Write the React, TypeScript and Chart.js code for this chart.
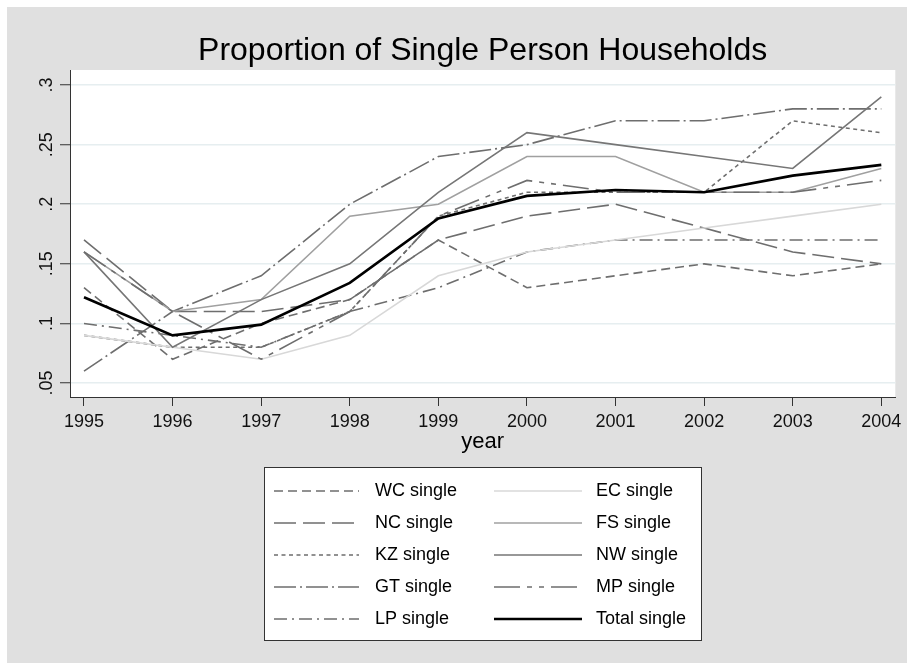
import React, { useEffect, useRef } from 'react';
import { Chart, registerables } from 'chart.js';

Chart.register(...registerables);

const years = [1995, 1996, 1997, 1998, 1999, 2000, 2001, 2002, 2003, 2004];

const wcSingle = [0.13, 0.07, 0.10, 0.12, 0.17, 0.13, 0.14, 0.15, 0.14, 0.15];
const ncSingle = [0.17, 0.11, 0.11, 0.12, 0.17, 0.19, 0.20, 0.18, 0.16, 0.15];
const kzSingle = [0.09, 0.08, 0.08, 0.11, 0.19, 0.21, 0.21, 0.21, 0.27, 0.26];
const gtSingle = [0.06, 0.11, 0.14, 0.20, 0.24, 0.25, 0.27, 0.27, 0.28, 0.28];
const lpSingle = [0.10, 0.09, 0.08, 0.11, 0.13, 0.16, 0.17, 0.17, 0.17, 0.17];
const ecSingle = [0.09, 0.08, 0.07, 0.09, 0.14, 0.16, 0.17, 0.18, 0.19, 0.20];
const fsSingle = [0.16, 0.11, 0.12, 0.19, 0.20, 0.24, 0.24, 0.21, 0.21, 0.23];
const nwSingle = [0.16, 0.08, 0.12, 0.15, 0.21, 0.26, 0.25, 0.24, 0.23, 0.29];
const mpSingle = [0.16, 0.11, 0.07, 0.11, 0.19, 0.22, 0.21, 0.21, 0.21, 0.22];
const totalSingle = [0.122, 0.090, 0.099, 0.134, 0.188, 0.207, 0.212, 0.210, 0.224, 0.233];

const seriesNames = [
  'WC single', 'NC single', 'KZ single', 'GT single', 'LP single',
  'EC single', 'FS single', 'NW single', 'MP single', 'Total single',
];
const seriesValues = [
  wcSingle, ncSingle, kzSingle, gtSingle, lpSingle,
  ecSingle, fsSingle, nwSingle, mpSingle, totalSingle,
];

const yTicks = [0.05, 0.1, 0.15, 0.2, 0.25, 0.3];
const yTickLabels = ['.05', '.1', '.15', '.2', '.25', '.3'];

const chartTitle = 'Proportion of Single Person Households';
const xTitle = 'year';

const FONT = '"Liberation Sans", Arial, Helvetica, sans-serif';

const seriesStyles = [
  { color: '#6e6e6e', dash: [9, 5], width: 1.6 },
  { color: '#6e6e6e', dash: [22, 7], width: 1.6 },
  { color: '#6e6e6e', dash: [4, 3.5], width: 1.6 },
  { color: '#6e6e6e', dash: [22, 4, 2, 4], width: 1.6 },
  { color: '#6e6e6e', dash: [13, 5, 2, 5], width: 1.6 },
  { color: '#d8d8d8', dash: [], width: 1.6 },
  { color: '#a0a0a0', dash: [], width: 1.6 },
  { color: '#767676', dash: [], width: 1.6 },
  { color: '#6e6e6e', dash: [26, 7, 5, 7, 5, 7], width: 1.6 },
  { color: '#000000', dash: [], width: 2.6 },
];

const bgPlugin = {
  id: 'bgPlugin',
  beforeDraw(chart: any) {
    const { ctx, chartArea, width, height } = chart;
    ctx.save();
    ctx.fillStyle = '#e0e0e0';
    ctx.fillRect(0, 0, width, height);
    ctx.fillStyle = '#ffffff';
    ctx.fillRect(chartArea.left, chartArea.top, chartArea.right - chartArea.left, chartArea.bottom - chartArea.top);
    ctx.restore();
  },
};

const titlePlugin = {
  id: 'titlePlugin',
  afterDraw(chart: any) {
    const { ctx, chartArea } = chart;
    const cx = (chartArea.left + chartArea.right) / 2;
    ctx.save();
    ctx.font = `32px ${FONT}`;
    ctx.fillStyle = '#000';
    ctx.textAlign = 'center';
    ctx.textBaseline = 'alphabetic';
    ctx.fillText(chartTitle, cx, chartArea.top - 10);
    ctx.restore();
  },
};

const legendPlugin = {
  id: 'boxLegend',
  afterDraw(chart: any) {
    const { ctx, chartArea } = chart;
    const cx = (chartArea.left + chartArea.right) / 2;
    const boxW = 437;
    const boxH = 173;
    const bx = Math.round(cx - boxW / 2) + 0.5;
    const by = Math.round(chartArea.bottom + 70) + 0.5;
    ctx.save();
    ctx.fillStyle = '#ffffff';
    ctx.fillRect(bx, by, boxW, boxH);
    ctx.strokeStyle = '#333333';
    ctx.lineWidth = 1;
    ctx.strokeRect(bx, by, boxW, boxH);
    const ds = chart.data.datasets;
    const cols = [
      { lineX: bx + 9.5, lineLen: 85, textX: bx + 110.5 },
      { lineX: bx + 229.5, lineLen: 88, textX: bx + 331.5 },
    ];
    ds.forEach((d: any, i: number) => {
      const col = cols[Math.floor(i / 5)];
      const row = i % 5;
      const y = by + 23.5 + row * 32;
      ctx.save();
      ctx.strokeStyle = d.borderColor;
      ctx.lineWidth = d.borderWidth;
      ctx.setLineDash(d.borderDash || []);
      ctx.lineCap = 'butt';
      ctx.beginPath();
      ctx.moveTo(col.lineX, y);
      ctx.lineTo(col.lineX + col.lineLen, y);
      ctx.stroke();
      ctx.restore();
      ctx.font = `18px ${FONT}`;
      ctx.fillStyle = '#000';
      ctx.textAlign = 'left';
      ctx.textBaseline = 'middle';
      ctx.fillText(d.label, col.textX, y);
    });
    ctx.restore();
  },
};

export default function App() {
  const ref = useRef<HTMLCanvasElement>(null);
  useEffect(() => {
    const datasets = seriesNames.map((name, i) => ({
      label: name,
      data: seriesValues[i],
      borderColor: seriesStyles[i].color,
      backgroundColor: seriesStyles[i].color,
      borderDash: seriesStyles[i].dash,
      borderWidth: seriesStyles[i].width,
      pointRadius: 0,
      pointHoverRadius: 0,
      tension: 0,
      fill: false,
      order: -i,
    }));
    const chart = new Chart(ref.current as HTMLCanvasElement, {
      type: 'line',
      data: { labels: years, datasets },
      options: {
        animation: false,
        responsive: false,
        devicePixelRatio: 1,
        layout: { padding: { top: 63, left: 0, right: 10, bottom: 206 } },
        plugins: {
          legend: { display: false },
          title: { display: false },
          tooltip: { enabled: false },
        },
        scales: {
          x: {
            type: 'linear',
            min: 1994.842,
            max: 2004.158,
            afterBuildTicks: (s: any) => {
              s.ticks = years.map((v) => ({ value: v }));
            },
            afterFit: (s: any) => {
              s.height = 60;
            },
            grid: {
              drawOnChartArea: false,
              drawTicks: true,
              tickLength: 9,
              tickColor: '#333',
              tickWidth: 1,
            },
            border: { display: true, color: '#333', width: 1 },
            ticks: {
              autoSkip: false,
              minRotation: 0,
              maxRotation: 0,
              padding: 5.5,
              color: '#111',
              font: { family: FONT, size: 18 },
              callback: (v: any) => String(v),
            },
            title: {
              display: true,
              text: xTitle,
              color: '#000',
              font: { family: FONT, size: 22, lineHeight: 1.2 },
              padding: { top: 0, bottom: 2 },
            },
          },
          y: {
            type: 'linear',
            min: 0.0383,
            max: 0.3126,
            afterBuildTicks: (s: any) => {
              s.ticks = yTicks.map((v) => ({ value: v }));
            },
            afterFit: (s: any) => {
              s.width = 63;
            },
            grid: {
              color: '#e6eef0',
              lineWidth: 1.5,
              drawTicks: true,
              tickLength: 10,
              tickColor: '#333',
              tickWidth: 1,
            },
            border: { display: true, color: '#333', width: 1 },
            ticks: {
              autoSkip: false,
              minRotation: 90,
              maxRotation: 90,
              crossAlign: 'center',
              padding: 0,
              color: '#111',
              font: { family: FONT, size: 18 },
              callback: (v: any) => {
                const idx = yTicks.indexOf(v);
                return idx >= 0 ? yTickLabels[idx] : '';
              },
            },
          },
        },
      } as any,
      plugins: [bgPlugin, titlePlugin, legendPlugin],
    });
    return () => chart.destroy();
  }, []);
  return (
    <div style={{ position: 'absolute', left: 7, top: 7, width: 900, height: 656 }}>
      <canvas ref={ref} width={900} height={656} style={{ display: 'block' }} />
    </div>
  );
}
